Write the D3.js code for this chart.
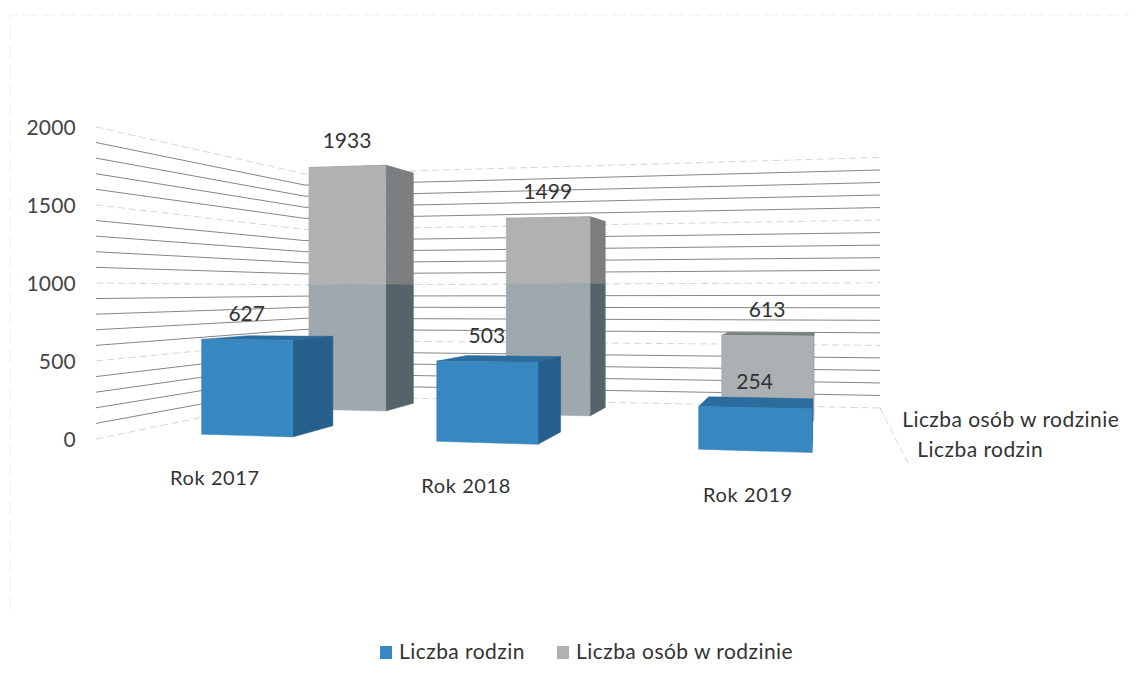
<!DOCTYPE html>
<html>
<head>
<meta charset="utf-8">
<script src="https://cdnjs.cloudflare.com/ajax/libs/d3/7.8.5/d3.min.js"></script>
<style>
  html, body { margin: 0; padding: 0; background: #fff; }
  text { font-family: Lato, "Noto Sans", sans-serif; fill: #333; }
  .axis-y text { font-size: 21px; letter-spacing: 0.2px; fill: #444; }
  .axis-y path, .axis-y line { display: none; }
</style>
</head>
<body>
<div id="chart_placeholder"></div>
<script>
var categories = ["Rok 2017", "Rok 2018", "Rok 2019"];
var seriesNames = ["Liczba osób w rodzinie", "Liczba rodzin"];  // back row first
var legendOrder = ["Liczba rodzin", "Liczba osób w rodzinie"];
var familyValues = [627, 503, 254];
var personValues = [1933, 1499, 613];
var yTickLabels = [0, 500, 1000, 1500, 2000];

var width = 1137;
var height = 684;

// floor of the 3d box on screen: back left, back right, front right, front left
var floorBL = [305, 396], floorBR = [880, 408], floorFR = [909, 465], floorFL = [96, 439];

var colors = {
  "Liczba rodzin": { front: "#3787c1", side: "#265f8b", top: "#2b6c9e", swatch: "#3787c1" },
  "Liczba osób w rodzinie": { front: "#afb1b2", lower: "#9fa8ad", short: "#abb0b3", side: "#7c7f80", sideLower: "#55636b", top: "#7a7f82", swatch: "#b0b1b2" }
};

// homography from the unit floor square to the screen
function makeFloor(p0, p1, p2, p3) {
  var dx1 = p1[0] - p2[0], dx2 = p3[0] - p2[0], dx3 = p0[0] - p1[0] + p2[0] - p3[0];
  var dy1 = p1[1] - p2[1], dy2 = p3[1] - p2[1], dy3 = p0[1] - p1[1] + p2[1] - p3[1];
  var den = dx1 * dy2 - dx2 * dy1;
  var g = (dx3 * dy2 - dx2 * dy3) / den;
  var h = (dx1 * dy3 - dx3 * dy1) / den;
  return {
    a: p1[0] - p0[0] + g * p1[0], b: p3[0] - p0[0] + h * p3[0], c: p0[0],
    d: p1[1] - p0[1] + g * p1[1], e: p3[1] - p0[1] + h * p3[1], f: p0[1],
    g: g, h: h
  };
}
var floor = makeFloor(floorBL, floorBR, floorFR, floorFL);

// value to wall height in px at the back left corner
var heightScale = d3.scaleLinear().domain([0, 2000]).range([0, 222]);

// u = across the categories, v = depth (0 back, 1 front)
function project(u, v, value) {
  var w = floor.g * u + floor.h * v + 1;
  return [
    (floor.a * u + floor.b * v + floor.c) / w,
    (floor.d * u + floor.e * v + floor.f - heightScale(value)) / w
  ];
}

var uScale = d3.scaleBand().domain(categories).range([0.009, 0.996]).paddingInner(0.6).paddingOuter(0.3);
var vScale = d3.scaleBand().domain(seriesNames).range([0, 1.02]).paddingInner(0.615).paddingOuter(0.263);

var line = d3.line();

var svg = d3.select("#chart_placeholder")
  .append("svg")
  .attr("width", width)
  .attr("height", height);

// traces of the scanned frame
svg.append("path")
  .attr("d", line([[10, 610], [10, 15], [1130, 15]]))
  .attr("fill", "none")
  .attr("stroke", "#efefef")
  .attr("stroke-dasharray", "14 5");

// walls
var gridValues = heightScale.ticks(20);

svg.append("g").selectAll("path")
  .data(gridValues)
  .enter()
  .append("path")
  .attr("d", function(d) { return line([project(0, 1, d), project(0, 0, d), project(1, 0, d)]); })
  .attr("fill", "none")
  .attr("stroke", function(d) { return d % 500 == 0 ? "#d6d6d6" : "#858585"; })
  .attr("stroke-dasharray", function(d) { return d % 500 == 0 ? "7 4" : null; });

// floor edge on the right
svg.append("path")
  .attr("d", line([project(1, 0, 0), project(1, 1, 0)]))
  .attr("fill", "none")
  .attr("stroke", "#d6d6d6")
  .attr("stroke-dasharray", "7 4");

// y axis sits on the front edge of the left wall
var yAxisScale = d3.scaleLinear()
  .domain([0, 2000])
  .range([project(0, 1, 0)[1], project(0, 1, 2000)[1]]);

svg.append("g")
  .attr("class", "axis-y")
  .attr("transform", "translate(" + (floorFL[0] - 17) + ",1)")
  .call(d3.axisLeft(yAxisScale).tickValues(yTickLabels).tickSize(0).tickFormat(d3.format("d")));

function face(g, points, fill) {
  g.append("path")
    .attr("d", line(points) + "Z")
    .attr("fill", fill)
    .attr("stroke", fill)
    .attr("stroke-width", 0.5);
}

function drawBar(category, name, value) {
  var c = colors[name];
  var u0 = uScale(category), u1 = u0 + uScale.bandwidth();
  var v0 = vScale(name), v1 = v0 + vScale.bandwidth();
  var g = svg.append("g").attr("class", "bar");

  // top first, the front hides it on bars that rise over the eye line
  face(g, [project(u0, v1, value), project(u1, v1, value), project(u1, v0, value), project(u0, v0, value)], c.top);

  // the scan shows the tall bars darker below the 1000 line
  var split = Math.min(value, 1000);
  if (c.lower) {
    face(g, [project(u1, v1, 0), project(u1, v0, 0), project(u1, v0, split), project(u1, v1, split)], c.sideLower);
    face(g, [project(u0, v1, 0), project(u1, v1, 0), project(u1, v1, split), project(u0, v1, split)], value > split ? c.lower : c.short);
    if (value > split) {
      face(g, [project(u1, v1, split), project(u1, v0, split), project(u1, v0, value), project(u1, v1, value)], c.side);
      face(g, [project(u0, v1, split), project(u1, v1, split), project(u1, v1, value), project(u0, v1, value)], c.front);
    }
  } else {
    face(g, [project(u1, v1, 0), project(u1, v0, 0), project(u1, v0, value), project(u1, v1, value)], c.side);
    face(g, [project(u0, v1, 0), project(u1, v1, 0), project(u1, v1, value), project(u0, v1, value)], c.front);
  }
}

categories.forEach(function(cat, i) { drawBar(cat, "Liczba osób w rodzinie", personValues[i]); });
categories.forEach(function(cat, i) { drawBar(cat, "Liczba rodzin", familyValues[i]); });

// data labels over the middle of the front face
function dataLabel(category, name, value) {
  var p = project(uScale(category) + uScale.bandwidth() / 2, vScale(name) + vScale.bandwidth(), value);
  svg.append("text")
    .attr("x", p[0])
    .attr("y", p[1] - 26)
    .attr("dy", "0.35em")
    .attr("text-anchor", "middle")
    .style("font-size", "21px")
    .text(value);
}

categories.forEach(function(cat, i) {
  dataLabel(cat, "Liczba osób w rodzinie", personValues[i]);
  dataLabel(cat, "Liczba rodzin", familyValues[i]);
});

// category labels in front of the floor
categories.forEach(function(cat) {
  var p = project(uScale(cat) + uScale.bandwidth() / 2, 1, 0);
  svg.append("text")
    .attr("x", p[0] - 3)
    .attr("y", p[1] + 35)
    .attr("dy", "0.35em")
    .attr("text-anchor", "middle")
    .style("font-size", "20px")
    .style("letter-spacing", "0.6px")
    .text(cat);
});

// series labels next to the right floor edge
seriesNames.forEach(function(name) {
  var p = project(1, vScale(name) + vScale.bandwidth() / 2, 0);
  svg.append("text")
    .attr("x", p[0] + 17)
    .attr("y", p[1] + 2)
    .attr("dy", "0.35em")
    .style("font-size", "21px")
    .style("letter-spacing", "0.45px")
    .text(name);
});

// legend
var legendX = [380, 557];

var legend = svg.append("g").selectAll("g")
  .data(legendOrder)
  .enter()
  .append("g")
  .attr("transform", function(d, i) { return "translate(" + legendX[i] + ",652)"; });

legend.append("rect")
  .attr("x", 0)
  .attr("y", -6)
  .attr("width", 12)
  .attr("height", 13)
  .attr("fill", function(d) { return colors[d].swatch; });

legend.append("text")
  .attr("x", 19)
  .attr("dy", "0.35em")
  .style("font-size", "21px")
  .style("letter-spacing", "0.45px")
  .text(function(d) { return d; });
</script>
</body>
</html>
